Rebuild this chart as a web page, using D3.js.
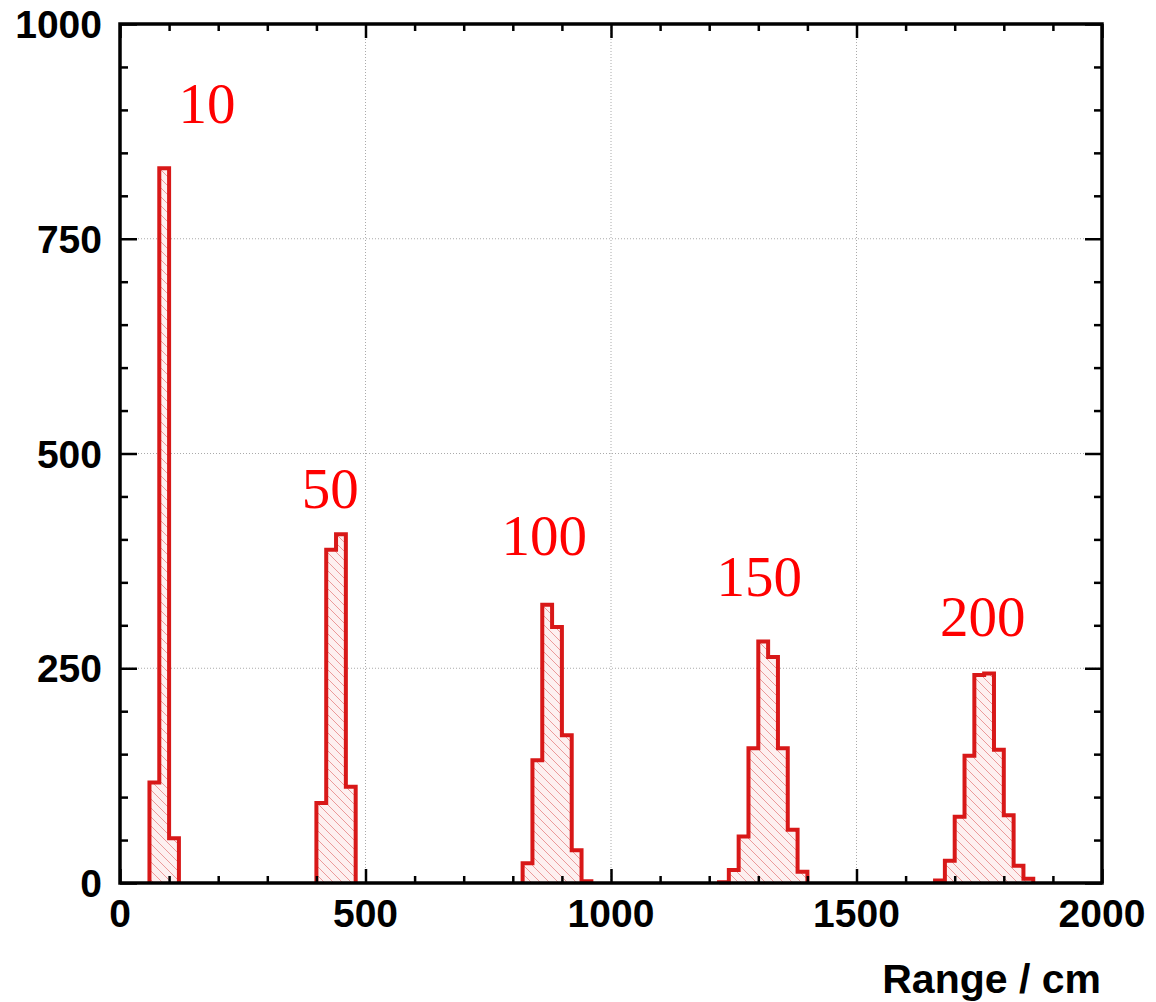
<!DOCTYPE html>
<html>
<head>
<meta charset="utf-8">
<script src="https://cdn.jsdelivr.net/npm/d3@7"></script>
<style>
  body { margin: 0; background: #fff; }
</style>
</head>
<body>
<script>
// histogram bins are 20 cm wide, each peak listed from its first bin
var binWidth = 20;
var peakNames = ["10", "50", "100", "150", "200"];
var peakStart = [60, 400, 820, 1220, 1660];
var peakCounts = [
  [117, 832, 52],
  [93, 388, 406, 112],
  [23, 143, 324, 298, 172, 38, 2],
  [1, 15, 54, 157, 281, 263, 157, 62, 13],
  [3, 26, 77, 148, 242, 244, 155, 79, 20, 5]
];
// where the peak labels sit, in chart units
var labelRange = [177, 428, 864, 1302, 1757];
var labelCount = [885, 436, 382, 334, 288];

var xMajor = [0, 500, 1000, 1500, 2000];
var xMinor = [100, 200, 300, 400, 600, 700, 800, 900, 1100, 1200, 1300, 1400, 1600, 1700, 1800, 1900];
var yMajor = [0, 250, 500, 750, 1000];
var yMinor = [50, 100, 150, 200, 300, 350, 400, 450, 550, 600, 650, 700, 800, 850, 900, 950];

var w = 1156, h = 1002;
var padLeft = 120, padRight = 1102, padTop = 24, padBottom = 883;

var svg = d3.select("body").append("svg")
    .attr("width", w)
    .attr("height", h);

svg.append("rect").attr("width", w).attr("height", h).attr("fill", "#fff");

var xScale = d3.scaleLinear().domain([0, 2000]).range([padLeft, padRight]);
var yScale = d3.scaleLinear().domain([0, 1000]).range([padBottom, padTop]);

// hatch pattern like ROOT fill style
var defs = svg.append("defs");
var pat = defs.append("pattern")
    .attr("id", "hatch")
    .attr("patternUnits", "userSpaceOnUse")
    .attr("width", 9)
    .attr("height", 9);
pat.append("rect").attr("width", 9).attr("height", 9).attr("fill", "#fdf0f0");
pat.append("path")
    .attr("d", "M-1,-1 L10,10 M-1,8 L1,10 M8,-1 L10,1")
    .attr("stroke", "#eb9a9a")
    .attr("stroke-width", 1);

// grid
svg.append("g").selectAll("line")
    .data([500, 1000, 1500])
    .enter().append("line")
    .attr("x1", function(d) { return xScale(d); })
    .attr("x2", function(d) { return xScale(d); })
    .attr("y1", padTop).attr("y2", padBottom)
    .attr("stroke", "#aaa").attr("stroke-width", 1).attr("stroke-dasharray", "1,2");

svg.append("g").selectAll("line")
    .data([250, 500, 750])
    .enter().append("line")
    .attr("y1", function(d) { return yScale(d); })
    .attr("y2", function(d) { return yScale(d); })
    .attr("x1", padLeft).attr("x2", padRight)
    .attr("stroke", "#aaa").attr("stroke-width", 1).attr("stroke-dasharray", "1,2");

// histogram step outlines
var step = d3.line()
    .x(function(d) { return xScale(d[0]); })
    .y(function(d) { return yScale(d[1]); })
    .curve(d3.curveStepAfter);

var peaks = peakCounts.map(function(counts, i) {
  var pts = [[peakStart[i], 0]];
  counts.forEach(function(c, j) {
    pts.push([peakStart[i] + j * binWidth, c]);
  });
  pts.push([peakStart[i] + counts.length * binWidth, 0]);
  return pts;
});

var hist = svg.append("g");
hist.selectAll("path.fill")
    .data(peaks)
    .enter().append("path")
    .attr("class", "fill")
    .attr("d", step)
    .attr("fill", "url(#hatch)")
    .attr("stroke", "none");

hist.selectAll("path.edge")
    .data(peaks)
    .enter().append("path")
    .attr("class", "edge")
    .attr("d", step)
    .attr("fill", "none")
    .attr("stroke", "#d81818")
    .attr("stroke-width", 4)
    .attr("stroke-linejoin", "miter");

// axes with inward ticks on all four sides
function tickStyle(g) {
  g.select(".domain").remove();
  g.selectAll(".tick line").attr("stroke", "#000").attr("stroke-width", 2.5);
}

svg.append("g").attr("transform", "translate(0," + padBottom + ")")
    .call(d3.axisBottom(xScale).tickValues(xMajor).tickSize(-14).tickFormat(""))
    .call(tickStyle);
svg.append("g").attr("transform", "translate(0," + padBottom + ")")
    .call(d3.axisBottom(xScale).tickValues(xMinor).tickSize(-7).tickFormat(""))
    .call(tickStyle);
svg.append("g").attr("transform", "translate(0," + padTop + ")")
    .call(d3.axisTop(xScale).tickValues(xMajor).tickSize(-14).tickFormat(""))
    .call(tickStyle);
svg.append("g").attr("transform", "translate(0," + padTop + ")")
    .call(d3.axisTop(xScale).tickValues(xMinor).tickSize(-7).tickFormat(""))
    .call(tickStyle);

svg.append("g").attr("transform", "translate(" + padLeft + ",0)")
    .call(d3.axisLeft(yScale).tickValues(yMajor).tickSize(-17).tickFormat(""))
    .call(tickStyle);
svg.append("g").attr("transform", "translate(" + padLeft + ",0)")
    .call(d3.axisLeft(yScale).tickValues(yMinor).tickSize(-8).tickFormat(""))
    .call(tickStyle);
svg.append("g").attr("transform", "translate(" + padRight + ",0)")
    .call(d3.axisRight(yScale).tickValues(yMajor).tickSize(-17).tickFormat(""))
    .call(tickStyle);
svg.append("g").attr("transform", "translate(" + padRight + ",0)")
    .call(d3.axisRight(yScale).tickValues(yMinor).tickSize(-8).tickFormat(""))
    .call(tickStyle);

// frame
svg.append("rect")
    .attr("x", padLeft).attr("y", padTop)
    .attr("width", padRight - padLeft).attr("height", padBottom - padTop)
    .attr("fill", "none").attr("stroke", "#000").attr("stroke-width", 3.5);

// tick labels
svg.append("g").selectAll("text")
    .data(xMajor)
    .enter().append("text")
    .attr("x", function(d) { return xScale(d); })
    .attr("y", 927)
    .attr("text-anchor", "middle")
    .style("font-family", "'Liberation Sans', Arial, sans-serif")
    .style("font-weight", "bold")
    .style("font-size", "39px")
    .text(function(d) { return d; });

svg.append("g").selectAll("text")
    .data(yMajor)
    .enter().append("text")
    .attr("x", 102)
    .attr("y", function(d) { return yScale(d) + 14; })
    .attr("text-anchor", "end")
    .style("font-family", "'Liberation Sans', Arial, sans-serif")
    .style("font-weight", "bold")
    .style("font-size", "39px")
    .text(function(d) { return d; });

svg.append("text")
    .attr("x", 1101)
    .attr("y", 993)
    .attr("text-anchor", "end")
    .style("font-family", "'Liberation Sans', Arial, sans-serif")
    .style("font-weight", "bold")
    .style("font-size", "41px")
    .text("Range / cm");

// peak labels
svg.append("g").selectAll("text")
    .data(peakNames)
    .enter().append("text")
    .attr("x", function(d, i) { return xScale(labelRange[i]); })
    .attr("y", function(d, i) { return yScale(labelCount[i]); })
    .attr("text-anchor", "middle")
    .attr("fill", "#ff0000")
    .style("font-family", "'Liberation Serif', 'Times New Roman', serif")
    .style("font-size", "57px")
    .text(function(d) { return d; });
</script>
</body>
</html>
